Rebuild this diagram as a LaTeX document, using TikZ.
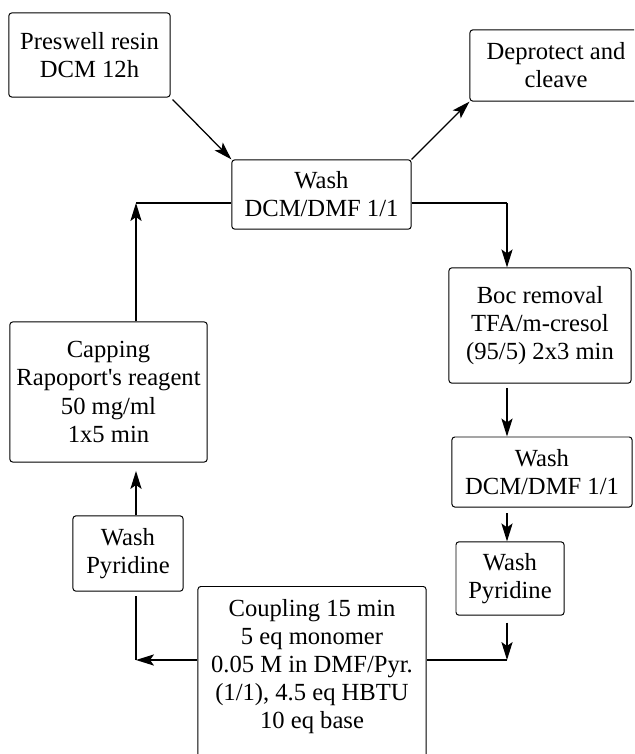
\documentclass[tikz,border=0pt]{standalone}
\usepackage{fontspec}
\setmainfont{Liberation Serif}
\usepackage{tikz}
\usetikzlibrary{arrows.meta}

\begin{document}
\begin{tikzpicture}[x=0.025cm,y=-0.025cm,
    stage/.style={rectangle,rounded corners=2pt,draw,line width=0.7pt,align=center,inner sep=2pt,font=\fontsize{17.5}{20}\selectfont},
    flow/.style={-{Stealth[length=4.5mm,width=2.8mm,inset=1mm]},line width=0.9pt},
    link/.style={line width=0.9pt}]

\useasboundingbox (0,0) rectangle (634,754);
\clip (0,0) rectangle (634,754);

\node[stage,minimum width=4.03cm,minimum height=2.1cm] (preswell) at (89.5,55) {Preswell resin\\DCM 12h};
\node[stage,minimum width=4.3cm,minimum height=1.78cm] (deprot) at (556,65.5) {Deprotect and\\cleave};
\node[stage,minimum width=4.48cm,minimum height=1.73cm] (wash1) at (321.5,194.5) {Wash\\DCM/DMF 1/1};
\node[stage,minimum width=4.55cm,minimum height=2.88cm] (boc) at (540,325.5) {Boc removal\\TFA/m-cresol\\(95/5) 2x3 min};
\node[stage,minimum width=4.5cm,minimum height=1.75cm] (wash2) at (542,472) {Wash\\DCM/DMF 1/1};
\node[stage,minimum width=2.7cm,minimum height=1.83cm] (pyrR) at (510,578.5) {Wash\\Pyridine};
\node[stage,minimum width=4.93cm,minimum height=3.5cm] (capping) at (108.5,392) {Capping\\Rapoport\textquotesingle s reagent\\50 mg/ml\\1x5 min};
\node[stage,minimum width=2.75cm,minimum height=1.88cm] (pyrL) at (128,553.5) {Wash\\Pyridine};
\node[stage,anchor=north,minimum width=5.7cm,inner ysep=9pt] (coupling) at (312,586) {Coupling 15 min\\5 eq monomer\\0.05 M in DMF/Pyr.\\(1/1), 4.5 eq HBTU\\10 eq base\\ \mbox{}\\ \mbox{}};

% corners of the loop
\coordinate (lt) at (136,203);
\coordinate (lb) at (136,660);
\coordinate (rt) at (507,203);
\coordinate (rb) at (507,660);

\draw[flow,shorten <=2pt] (preswell.south east) -- (wash1.north west);
\draw[flow] (wash1.north east) -- (deprot.south west);

\draw[link] (wash1.east |- rt) -- (rt);
\draw[flow] (rt) -- (rt |- boc.north);
\draw[flow,shorten <=3pt] (rt |- boc.south) -- (rt |- wash2.north);
\draw[flow,shorten <=4pt] (rt |- wash2.south) -- (rt |- pyrR.north);
\draw[flow,shorten <=5pt] (rb |- pyrR.south) -- (rb);
\draw[link] (rb) -- (rb -| coupling.east);

\draw[flow] (coupling.west |- lb) -- (lb);
\draw[link,shorten >=3pt] (lb) -- (lb |- pyrL.south);
\draw[flow,shorten >=6pt] (pyrL.north -| lt) -- (lt |- capping.south);
\draw[flow] (capping.north -| lt) -- (lt);
\draw[link] (lt) -- (lt -| wash1.west);

\end{tikzpicture}
\end{document}
